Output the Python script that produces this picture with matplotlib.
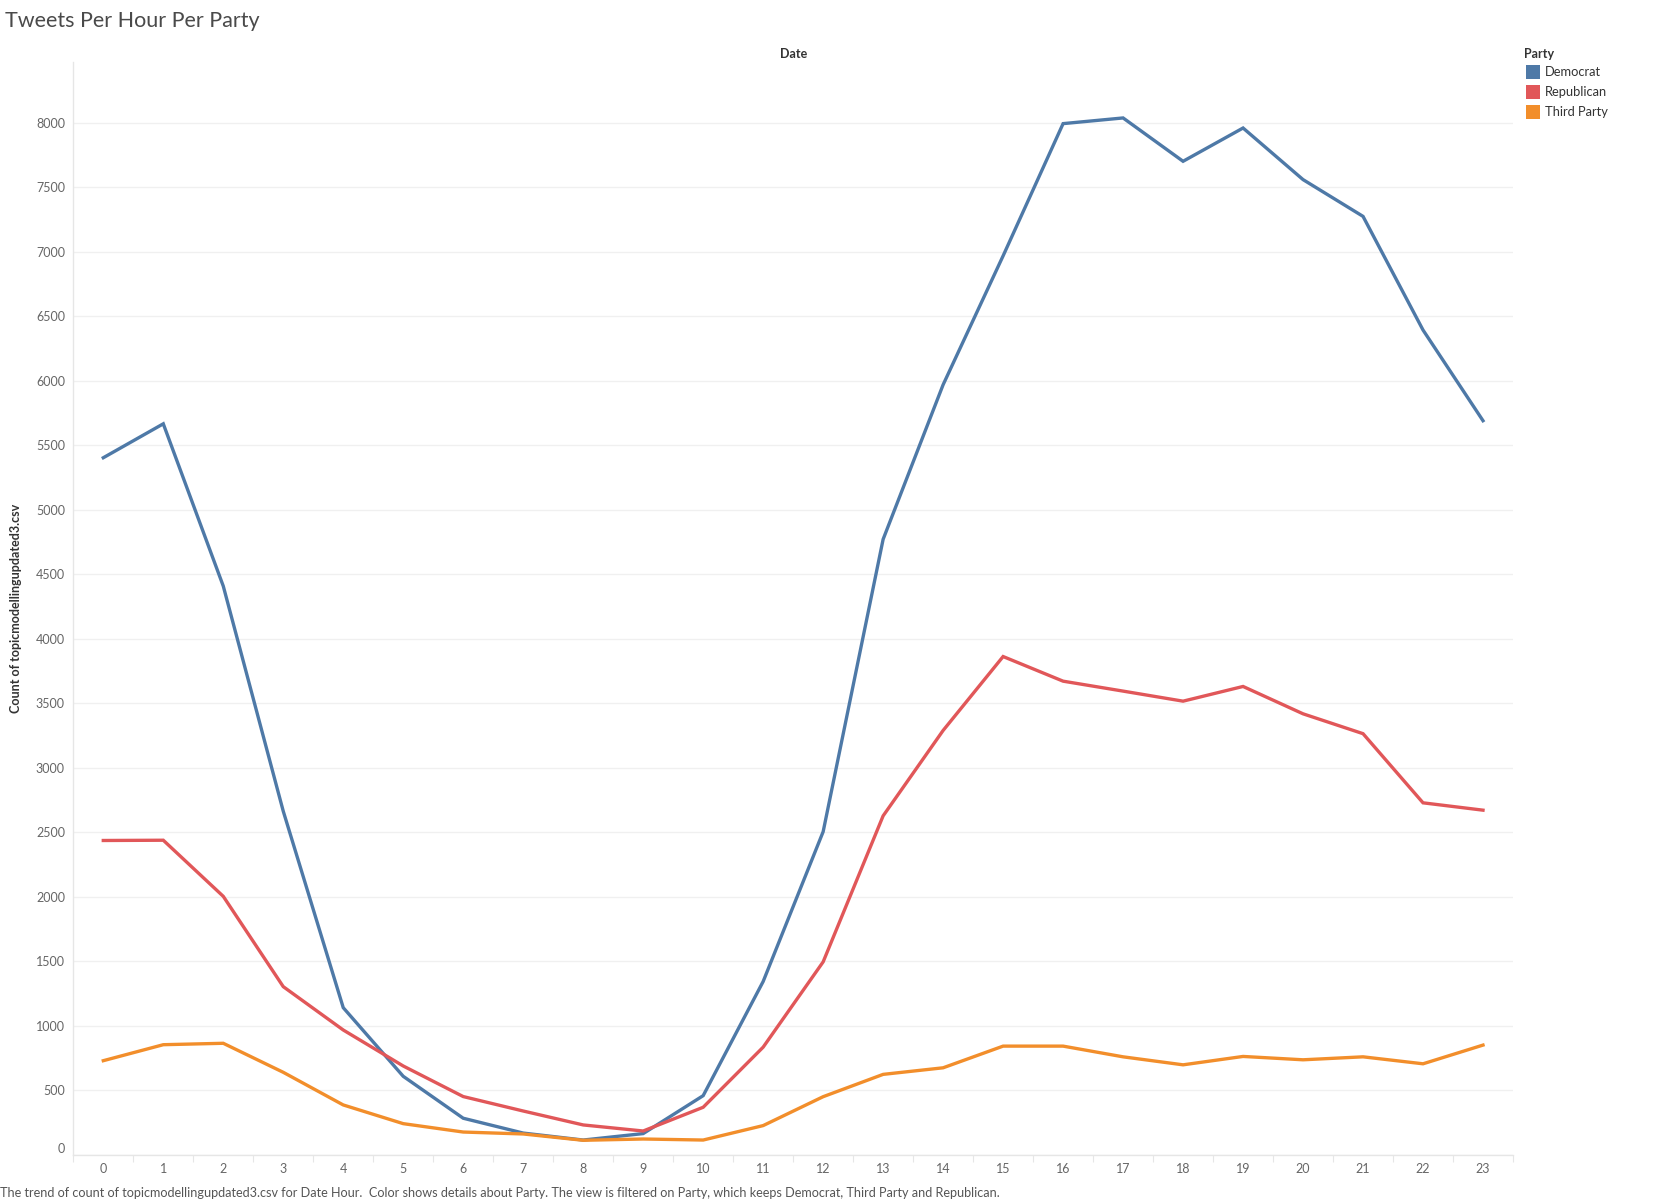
import matplotlib
matplotlib.use("Agg")
import matplotlib.pyplot as plt
from matplotlib.patches import Rectangle

hours = list(range(24))
hour_labels = [str(h) for h in hours]
democrat = [5405, 5668, 4410, 2665, 1142, 610, 285, 170, 116, 166, 460, 1345,
            2506, 4773, 5971, 6970, 7995, 8039, 7703, 7961, 7561, 7276, 6395, 5692]
republican = [2438, 2440, 2005, 1305, 969, 690, 453, 341, 233, 186, 370, 836,
              1497, 2629, 3291, 3864, 3673, 3596, 3518, 3632, 3420, 3266, 2730, 2673]
third_party = [731, 855, 866, 641, 388, 243, 178, 163, 114, 124, 116, 228,
               452, 625, 676, 844, 844, 761, 699, 764, 738, 761, 707, 852]
series_names = ["Democrat", "Republican", "Third Party"]
colors = ["#4e79a7", "#e15759", "#f28e2b"]
y_ticks = list(range(0, 8001, 500))

plt.rcParams['font.family'] = ['Lato', 'DejaVu Sans']

fig = plt.figure(figsize=(16.63, 12.01), dpi=100)
ax = fig.add_axes([73.3 / 1663, 1 - 1155 / 1201, (1513 - 73.3) / 1663, (1155 - 61.7) / 1201])

for name, vals, c in zip(series_names, [democrat, republican, third_party], colors):
    ax.plot(hours, vals, color=c, lw=2.4, solid_joinstyle='miter', label=name, zorder=3)

ax.set_xlim(-0.5, 23.5)
ax.set_ylim(0, 8475)
ax.set_yticks(y_ticks)
ax.set_yticklabels([str(v) for v in y_ticks])
ax.set_xticks(hours)
ax.set_xticklabels(hour_labels)
ax.set_xticks([h + 0.5 for h in range(-1, 24)], minor=True)
ax.grid(axis='y', color='#f0f0f0', lw=1.0, zorder=0)
ax.tick_params(axis='y', length=0, pad=6, labelsize=9, labelcolor='#666666')
ax.tick_params(axis='x', which='major', length=0, pad=6, labelsize=9, labelcolor='#666666')
ax.tick_params(axis='x', which='minor', length=5, width=0.8, color='#e6e6e6')
for lbl in ax.get_yticklabels():
    if lbl.get_text() == '0':
        lbl.set_va('bottom')
for s in ['top', 'right']:
    ax.spines[s].set_visible(False)
for s in ['left', 'bottom']:
    ax.spines[s].set_color('#e6e6e6')
    ax.spines[s].set_linewidth(1.0)

fig.text(5 / 1663, 1 - 21 / 1201, "Tweets Per Hour Per Party", fontsize=15.5,
         fontweight='normal', color='#4a4a4a', ha='left', va='center')
fig.text(794 / 1663, 1 - 54 / 1201, "Date", fontsize=9, fontweight='bold',
         color='#333333', ha='center', va='center')
fig.text(16 / 1663, 1 - 608 / 1201, "Count of topicmodellingupdated3.csv", fontsize=9,
         fontweight='bold', color='#333333', ha='center', va='center', rotation=90)
fig.text(0, 1 - 1193 / 1201,
         "The trend of count of topicmodellingupdated3.csv for Date Hour.  Color shows details about Party. "
         "The view is filtered on Party, which keeps Democrat, Third Party and Republican.",
         fontsize=9.1, color='#555555', ha='left', va='center')

# legend
fig.text(1524 / 1663, 1 - 54 / 1201, "Party", fontsize=9, fontweight='bold',
         color='#333333', ha='left', va='center')
for i, (name, c) in enumerate(zip(series_names, colors)):
    yc = 71.7 + 20 * i
    fig.patches.append(Rectangle((1526 / 1663, 1 - (yc + 7) / 1201), 14 / 1663, 14 / 1201,
                                 transform=fig.transFigure, facecolor=c, edgecolor='none'))
    fig.text(1545 / 1663, 1 - yc / 1201, name, fontsize=9.3, color='#333333',
             ha='left', va='center')

fig.savefig("out.png", dpi=100)
